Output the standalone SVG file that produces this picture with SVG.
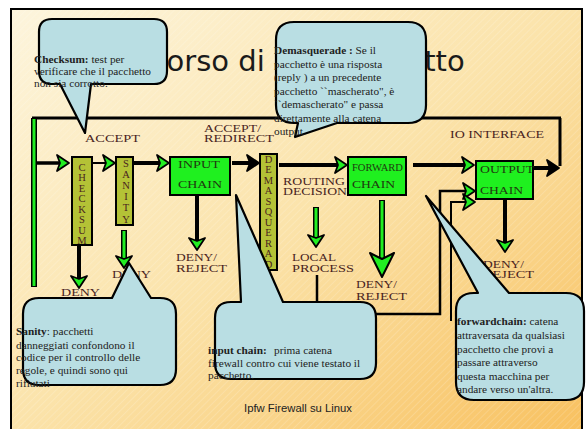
<svg xmlns="http://www.w3.org/2000/svg" width="586" height="429" viewBox="0 0 586 429">
<defs>
<linearGradient id="bg" x1="0" y1="0" x2="1" y2="1">
<stop offset="0" stop-color="#FDF5DD"/>
<stop offset="0.5" stop-color="#FBE3AA"/>
<stop offset="1" stop-color="#F8C160"/>
</linearGradient>
<pattern id="hatch" patternUnits="userSpaceOnUse" width="5" height="5" patternTransform="rotate(45)">
<line x1="0" y1="0" x2="0" y2="5" stroke="#fff" stroke-opacity="0.3" stroke-width="1"/>
</pattern>
<marker id="hg" markerUnits="userSpaceOnUse" markerWidth="14" markerHeight="18" viewBox="0 0 14 18" refX="4" refY="9" orient="auto" overflow="visible">
<path d="M13,9 L1,1 L4,9 L1,17 Z" fill="#2e2" stroke="#000" stroke-width="1.8" stroke-linejoin="round"/>
</marker>
<marker id="hb" markerUnits="userSpaceOnUse" markerWidth="14" markerHeight="18" viewBox="0 0 14 18" refX="4" refY="9" orient="auto" overflow="visible">
<path d="M13,9 L1,1 L4,9 L1,17 Z" fill="#000" stroke="#000" stroke-width="1.8" stroke-linejoin="round"/>
</marker>
<marker id="hbig" markerUnits="userSpaceOnUse" markerWidth="26" markerHeight="26" viewBox="0 0 26 26" refX="7" refY="13" orient="auto" overflow="visible">
<path d="M25,13 L1,1 L7,13 L1,25 Z" fill="#2e2" stroke="#000" stroke-width="2" stroke-linejoin="round"/>
</marker>
</defs>
<style>
.lbl{font-family:"Liberation Serif",serif;font-size:9.5px;fill:#4a1f1f}
.blbl{font-family:"Liberation Serif",serif;font-size:10px;fill:#1f3a0f}
.vt{font-family:"Liberation Serif",serif;font-size:10.5px;fill:#4a1f1f;text-anchor:middle}
.ct{font-family:"Liberation Serif",serif;font-size:11.3px;fill:#222}
.co{fill:#B9DEE3;stroke:#000;stroke-width:2.2;stroke-linejoin:round}
.box{stroke:#000;stroke-width:2}
.olive{fill:#B4C236}
.green{fill:#1FF01F}
.sk{stroke:#000;fill:none}
.go{stroke:#000;stroke-width:6}
.gi{stroke:#2e2;stroke-width:3}
</style>
<!-- slide background -->
<rect x="0" y="0" width="586" height="429" fill="#fff"/>
<rect x="11" y="9" width="571" height="421" fill="url(#bg)"/>
<rect x="11" y="9" width="571" height="421" fill="url(#hatch)"/>
<path d="M11,431 V9 H582 V431" fill="none" stroke="#000" stroke-width="2"/>
<text x="105" y="71" font-family="DejaVu Sans, sans-serif" font-size="29" fill="#1a1a1a">Percorso di un pacchetto</text>

<g id="connectors">
<line class="sk" x1="32" y1="118" x2="561" y2="118" stroke-width="3"/>
<line class="sk" x1="560" y1="118" x2="560" y2="166" stroke-width="3"/>
<line class="go" x1="34" y1="118" x2="34" y2="287"/>
<line class="gi" x1="34" y1="119" x2="34" y2="286"/>
<line class="sk" x1="36" y1="163" x2="60" y2="163" stroke-width="3.5" marker-end="url(#hg)"/>
<line class="sk" x1="92" y1="163" x2="106" y2="163" stroke-width="2" marker-end="url(#hg)"/>
<line class="sk" x1="133" y1="163" x2="160" y2="163" stroke-width="4" marker-end="url(#hg)"/>
<line class="sk" x1="232" y1="163" x2="250" y2="163" stroke-width="4" marker-end="url(#hb)"/>
<line class="sk" x1="279" y1="165" x2="338" y2="165" stroke-width="4" marker-end="url(#hg)"/>
<line class="sk" x1="413" y1="165" x2="465" y2="165" stroke-width="4" marker-end="url(#hg)"/>
<line class="sk" x1="533" y1="168" x2="550" y2="168" stroke-width="4" marker-end="url(#hb)"/>
<polyline class="sk" points="317,275 317,314 440,314 440,191 466,191" stroke-width="2.5" marker-end="url(#hg)"/>
<polyline class="sk" points="451,321 451,202 466,202" stroke-width="2" marker-end="url(#hg)"/>
<line class="sk" x1="79" y1="245" x2="79" y2="279" stroke-width="4" marker-end="url(#hg)"/>
<line class="go" x1="124" y1="230" x2="124" y2="259"/>
<line class="gi" x1="124" y1="231" x2="124" y2="259" marker-end="url(#hg)"/>
<line class="sk" x1="197" y1="195" x2="197" y2="241" stroke-width="4" marker-end="url(#hg)"/>
<line class="go" x1="316" y1="207" x2="316" y2="238"/>
<line class="gi" x1="316" y1="208" x2="316" y2="238" marker-end="url(#hg)"/>
<line class="go" x1="382" y1="200" x2="382" y2="259"/>
<line class="gi" x1="382" y1="201" x2="382" y2="259" marker-end="url(#hbig)"/>
<line class="sk" x1="505" y1="200" x2="505" y2="243" stroke-width="4" marker-end="url(#hg)"/>
</g>

<g id="checksum">
<rect class="box olive" x="72" y="157" width="20" height="88"/>
<text class="vt"><tspan x="82" y="170.5">C</tspan><tspan x="82" dy="10.5">H</tspan><tspan x="82" dy="10.5">E</tspan><tspan x="82" dy="10.5">C</tspan><tspan x="82" dy="10.5">K</tspan><tspan x="82" dy="10.5">S</tspan><tspan x="82" dy="10.5">U</tspan><tspan x="82" dy="10.5">M</tspan></text>
</g>
<g id="sanity">
<rect class="box olive" x="116" y="157" width="17" height="68"/>
<text class="vt"><tspan x="126" y="166.5">S</tspan><tspan x="126" dy="11.2">A</tspan><tspan x="126" dy="11.2">N</tspan><tspan x="126" dy="11.2">I</tspan><tspan x="126" dy="11.2">T</tspan><tspan x="126" dy="11.2">Y</tspan></text>
</g>
<g id="input-chain">
<rect class="box green" x="170" y="157" width="60" height="38"/>
<text class="blbl" x="178" y="168" textLength="42" lengthAdjust="spacingAndGlyphs">INPUT</text>
<text class="blbl" x="178" y="188" textLength="44" lengthAdjust="spacingAndGlyphs">CHAIN</text>
</g>
<g id="demasquerade">
<rect class="box olive" x="260" y="154" width="17" height="116"/>
<text class="vt"><tspan x="268.5" y="162.5">D</tspan><tspan x="268.5" dy="10.55">E</tspan><tspan x="268.5" dy="10.55">M</tspan><tspan x="268.5" dy="10.55">A</tspan><tspan x="268.5" dy="10.55">S</tspan><tspan x="268.5" dy="10.55">Q</tspan><tspan x="268.5" dy="10.55">U</tspan><tspan x="268.5" dy="10.55">E</tspan><tspan x="268.5" dy="10.55">R</tspan><tspan x="268.5" dy="10.55">A</tspan><tspan x="268.5" dy="10.55">D</tspan></text>
</g>
<g id="forward-chain">
<rect class="box green" x="348" y="157" width="58" height="38"/>
<text class="blbl" x="352" y="171" font-size="7" textLength="51" lengthAdjust="spacingAndGlyphs">FORWARD</text>
<text class="blbl" x="352" y="188" textLength="43" lengthAdjust="spacingAndGlyphs">CHAIN</text>
</g>
<g id="output-chain">
<rect class="box green" x="476" y="161" width="57" height="38"/>
<text class="blbl" x="480" y="173" textLength="54" lengthAdjust="spacingAndGlyphs">OUTPUT</text>
<text class="blbl" x="480" y="194" textLength="43" lengthAdjust="spacingAndGlyphs">CHAIN</text>
</g>

<g id="labels">
<text class="lbl" x="85" y="142" textLength="55" lengthAdjust="spacingAndGlyphs">ACCEPT</text>
<text class="lbl" x="204" y="132" textLength="57" lengthAdjust="spacingAndGlyphs">ACCEPT/</text>
<text class="lbl" x="204" y="142" textLength="70" lengthAdjust="spacingAndGlyphs">REDIRECT</text>
<text class="lbl" x="450" y="138" textLength="94" lengthAdjust="spacingAndGlyphs">IO INTERFACE</text>
<text class="lbl" x="283" y="185" textLength="62" lengthAdjust="spacingAndGlyphs">ROUTING</text>
<text class="lbl" x="283" y="195" textLength="64" lengthAdjust="spacingAndGlyphs">DECISION</text>
<text class="lbl" x="61" y="296" textLength="39" lengthAdjust="spacingAndGlyphs">DENY</text>
<text class="lbl" x="112" y="278" textLength="39" lengthAdjust="spacingAndGlyphs">DENY</text>
<text class="lbl" x="176" y="261" textLength="41" lengthAdjust="spacingAndGlyphs">DENY/</text>
<text class="lbl" x="176" y="272" textLength="51" lengthAdjust="spacingAndGlyphs">REJECT</text>
<text class="lbl" x="292" y="261" textLength="44" lengthAdjust="spacingAndGlyphs">LOCAL</text>
<text class="lbl" x="292" y="272" textLength="62" lengthAdjust="spacingAndGlyphs">PROCESS</text>
<text class="lbl" x="356" y="288" textLength="41" lengthAdjust="spacingAndGlyphs">DENY/</text>
<text class="lbl" x="356" y="300" textLength="51" lengthAdjust="spacingAndGlyphs">REJECT</text>
<text class="lbl" x="483" y="268" textLength="41" lengthAdjust="spacingAndGlyphs">DENY/</text>
<text class="lbl" x="483" y="278" textLength="51" lengthAdjust="spacingAndGlyphs">REJECT</text>
</g>

<g id="callout-checksum">
<path class="co" d="M52,19 H154 Q167,19 167,32 V71 Q167,84 154,84 H91 L85,133 L60,84 H52 Q39,84 39,71 V32 Q39,19 52,19 Z"/>
<text class="ct"><tspan x="34" y="63" font-weight="bold">Checksum:</tspan><tspan> test per</tspan><tspan x="34" y="75">verificare che il pacchetto</tspan><tspan x="34" y="87">non sia corrotto.</tspan></text>
</g>
<g id="callout-demasquerade">
<path class="co" d="M294,22 H408 Q426,22 426,40 V105 Q426,123 408,123 H337 L295,137 L298,123 H294 Q276,123 276,105 V40 Q276,22 294,22 Z"/>
<text class="ct"><tspan x="274" y="54" font-weight="bold">Demasquerade :</tspan><tspan> Se il</tspan><tspan x="274" y="67.5">pacchetto è una risposta</tspan><tspan x="274" y="81">(reply ) a un precedente</tspan><tspan x="274" y="94.5">pacchetto ``mascherato", è</tspan><tspan x="274" y="108">``demascherato" e passa</tspan><tspan x="274" y="121.5">direttamente alla catena</tspan><tspan x="274" y="135">output.</tspan></text>
</g>
<g id="callout-sanity">
<path class="co" d="M39,298 H112 L129,263 L151,298 H160 Q176,298 176,314 V369 Q176,385 160,385 H39 Q23,385 23,369 V314 Q23,298 39,298 Z"/>
<text class="ct"><tspan x="16" y="335" font-weight="bold">Sanity</tspan><tspan>: pacchetti</tspan><tspan x="16" y="349">danneggiati confondono il</tspan><tspan x="16" y="361">codice per il controllo delle</tspan><tspan x="16" y="374">regole, e quindi sono qui</tspan><tspan x="16" y="387">rifiutati</tspan></text>
</g>
<g id="callout-input">
<path class="co" d="M231,302 H241 L236,195 L283,302 H360 Q376,302 376,318 V363 Q376,379 360,379 H231 Q215,379 215,363 V318 Q215,302 231,302 Z"/>
<text class="ct"><tspan x="208" y="354" font-weight="bold">input chain:</tspan><tspan x="274" y="354">prima catena</tspan><tspan x="208" y="367">firewall contro cui viene testato il</tspan><tspan x="208" y="379">pacchetto.</tspan></text>
</g>
<g id="callout-forward">
<path class="co" d="M474,293 H478 L426,196 L509,293 H566 Q584,293 584,311 V382 Q584,400 566,400 H474 Q456,400 456,382 V311 Q456,293 474,293 Z"/>
<text class="ct"><tspan x="457" y="325" font-weight="bold">forwardchain:</tspan><tspan> catena</tspan><tspan x="457" y="339">attraversata da qualsiasi</tspan><tspan x="457" y="353">pacchetto che provi a</tspan><tspan x="457" y="366">passare attraverso</tspan><tspan x="457" y="380">questa macchina per</tspan><tspan x="457" y="393">andare verso un'altra.</tspan></text>
</g>
<text x="298" y="412" text-anchor="middle" font-family="Liberation Sans, Arial, sans-serif" font-size="11.3" fill="#222">Ipfw Firewall su Linux</text>
</svg>
